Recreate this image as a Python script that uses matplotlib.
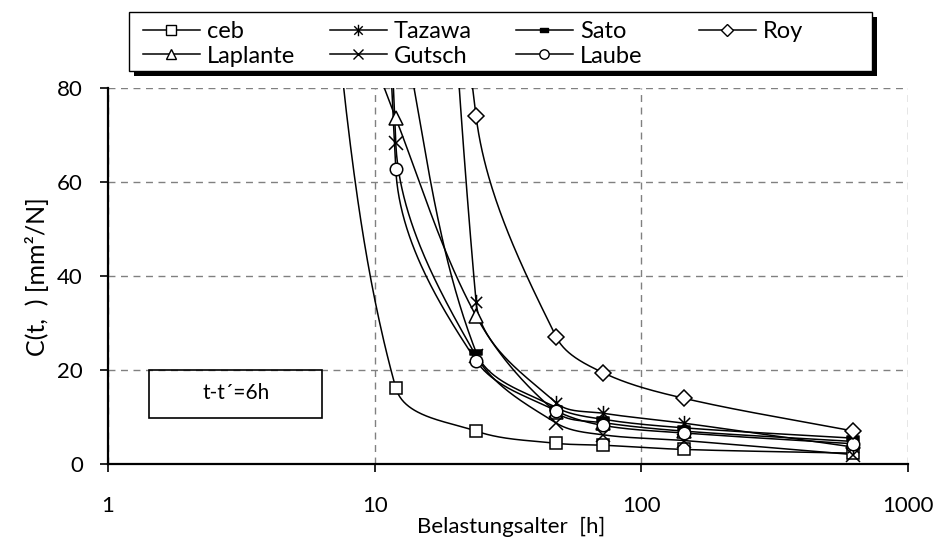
import numpy as np
import matplotlib
matplotlib.use("Agg")
import matplotlib.pyplot as plt
from matplotlib.patches import Rectangle
from matplotlib.path import Path

plt.rcParams['font.family'] = ['Lato', 'DejaVu Sans']

# Loading age [h] and creep compliance C(t,t') [mm²/N] per model
ceb_x = [6, 12, 24, 48, 72, 144, 624]
ceb_y = [130, 16.2, 7.0, 4.4, 4.0, 3.1, 2.3]

tazawa_x = [12, 24, 48, 72, 144, 624]
tazawa_y = [400, 34.5, 13.0, 10.8, 8.7, 3.6]

sato_x = [12, 24, 48, 72, 144, 624]
sato_y = [100, 23.8, 12.0, 9.5, 7.7, 5.5]

roy_x = [12, 24, 48, 72, 144, 624]
roy_y = [300, 74.0, 27.0, 19.4, 14.0, 7.0]

laplante_x = [6, 12, 24, 48, 72, 144, 624]
laplante_y = [120, 73.6, 31.5, 11.0, 8.8, 7.0, 4.8]

gutsch_x = [6, 12, 24, 48, 72, 144, 624]
gutsch_y = [800, 68.3, 23.0, 8.7, 6.2, 5.0, 2.0]

laube_x = [6, 12, 24, 48, 72, 144, 624]
laube_y = [700, 62.7, 22.0, 11.3, 8.2, 6.6, 4.3]

x_ticks = [1, 10, 100, 1000]
x_tick_labels = ['1', '10', '100', '1000']
y_ticks = [0, 20, 40, 60, 80]
y_tick_labels = ['0', '20', '40', '60', '80']

W, H = 943, 547
fig = plt.figure(figsize=(W / 100, H / 100), dpi=100)
ax = fig.add_axes([108 / W, 1 - 464 / H, (908 - 108) / W, (464 - 88) / H])
ax.set_xscale('log')
ax.set_xlim(1, 1000)
ax.set_ylim(0, 80)


def smooth(ax, xs, ys, n=80):
    """Smoothed line through the points: cubic Bezier segments whose
    handles follow the neighbour chord and scale with the segment length."""
    pts = ax.transData.transform(np.column_stack([xs, ys]))
    m = len(pts)
    tang = np.zeros_like(pts)
    for i in range(m):
        a = pts[max(i - 1, 0)]
        b = pts[min(i + 1, m - 1)]
        d = b - a
        tang[i] = d / np.hypot(*d)
    t = np.linspace(0, 1, n)[1:, None]
    out = [pts[:1]]
    for i in range(m - 1):
        p1, p2 = pts[i], pts[i + 1]
        L = np.hypot(*(p2 - p1)) / 3
        c1 = p1 + tang[i] * L
        c2 = p2 - tang[i + 1] * L
        seg = ((1 - t) ** 3 * p1 + 3 * (1 - t) ** 2 * t * c1
               + 3 * (1 - t) * t ** 2 * c2 + t ** 3 * p2)
        out.append(seg)
    out = np.vstack(out)
    return ax.transData.inverted().transform(out).T


asterisk = Path([(-1, -1), (1, 1), (-1, 1), (1, -1), (0, -1.35), (0, 1.35)],
                [Path.MOVETO, Path.LINETO, Path.MOVETO, Path.LINETO,
                 Path.MOVETO, Path.LINETO])
dash = Path([(-1, -0.45), (1, -0.45), (1, 0.45), (-1, 0.45), (-1, -0.45)],
            [Path.MOVETO, Path.LINETO, Path.LINETO, Path.LINETO, Path.CLOSEPOLY])

series = {
    'ceb': (ceb_x, ceb_y, dict(marker='s', ms=9, mfc='white')),
    'Laplante': (laplante_x, laplante_y, dict(marker='^', ms=10, mfc='white')),
    'Tazawa': (tazawa_x, tazawa_y, dict(marker=asterisk, ms=11, mfc='none')),
    'Gutsch': (gutsch_x, gutsch_y, dict(marker='x', ms=10, mfc='none')),
    'Sato': (sato_x, sato_y, dict(marker=dash, ms=8, mfc='black')),
    'Laube': (laube_x, laube_y, dict(marker='o', ms=9, mfc='white')),
    'Roy': (roy_x, roy_y, dict(marker='D', ms=8, mfc='white')),
}

handles = {}
for name, (xs, ys, mk) in series.items():
    sx, sy = smooth(ax, xs, ys)
    ax.plot(sx, sy, color='black', lw=1.1, zorder=3)
    ax.plot(xs, ys, ls='none', color='black', mec='black', mew=1.1,
            zorder=4, **mk)
    h, = ax.plot([], [], color='black', lw=1.1, mec='black', mew=1.0,
                 label=name, **{**mk, 'ms': mk['ms'] * 0.75})
    handles[name] = h

ax.set_xticks(x_ticks)
ax.set_xticklabels(x_tick_labels)
ax.xaxis.set_minor_locator(matplotlib.ticker.NullLocator())
ax.set_yticks(y_ticks)
ax.set_yticklabels(y_tick_labels)
ax.tick_params(axis='x', direction='out', length=6, width=1.2, pad=17,
               labelsize=16)
ax.tick_params(axis='y', direction='out', length=6, width=1.2, pad=12,
               labelsize=16)
ax.grid(True, which='major', color='#808080', ls=(0, (5, 4)), lw=1.0)
ax.set_axisbelow(True)
for s in ('top', 'right'):
    ax.spines[s].set_visible(False)
for s in ('left', 'bottom'):
    ax.spines[s].set_linewidth(1.6)
    ax.spines[s].set_zorder(5)

fig.text(511 / W, 1 - 527 / H, 'Belastungsalter  [h]', ha='center',
         va='center', fontsize=16)
fig.text(37 / W, 1 - 277 / H, 'C(t,  ) [mm²/N]', ha='center', va='center',
         rotation=90, fontsize=18)

# annotation box
ax.add_patch(Rectangle((149, H - 418), 173, 48, transform=None, fill=False,
                       ec='black', lw=1.2, zorder=6))
fig.text(236 / W, 1 - 393 / H, 't-t´=6h', ha='center', va='center',
         fontsize=15)

# legend frame with a solid drop shadow
lx0, ly0, lx1, ly1 = 129, 12, 872, 71
fig.patches.append(Rectangle(((lx0 + 5) / W, 1 - (ly1 + 5) / H),
                             (lx1 - lx0) / W, (ly1 - ly0) / H,
                             transform=fig.transFigure, fc='black',
                             ec='none', zorder=3))
fig.patches.append(Rectangle((lx0 / W, 1 - ly1 / H),
                             (lx1 - lx0) / W, (ly1 - ly0) / H,
                             transform=fig.transFigure, fc='white',
                             ec='black', lw=1.0, zorder=4))

legend_columns = [(143, ['ceb', 'Laplante']), (330, ['Tazawa', 'Gutsch']),
                  (516, ['Sato', 'Laube']), (699, ['Roy'])]
for x0, names in legend_columns:
    leg = fig.legend(handles=[handles[n] for n in names], loc='upper left',
                     bbox_to_anchor=(x0 / W, 1 - 21 / H), frameon=False,
                     fontsize=17, handlelength=2.4, handletextpad=0.3,
                     labelspacing=0.15, borderpad=0, borderaxespad=0)
    leg.set_zorder(5)

fig.savefig('out.png', dpi=100)
